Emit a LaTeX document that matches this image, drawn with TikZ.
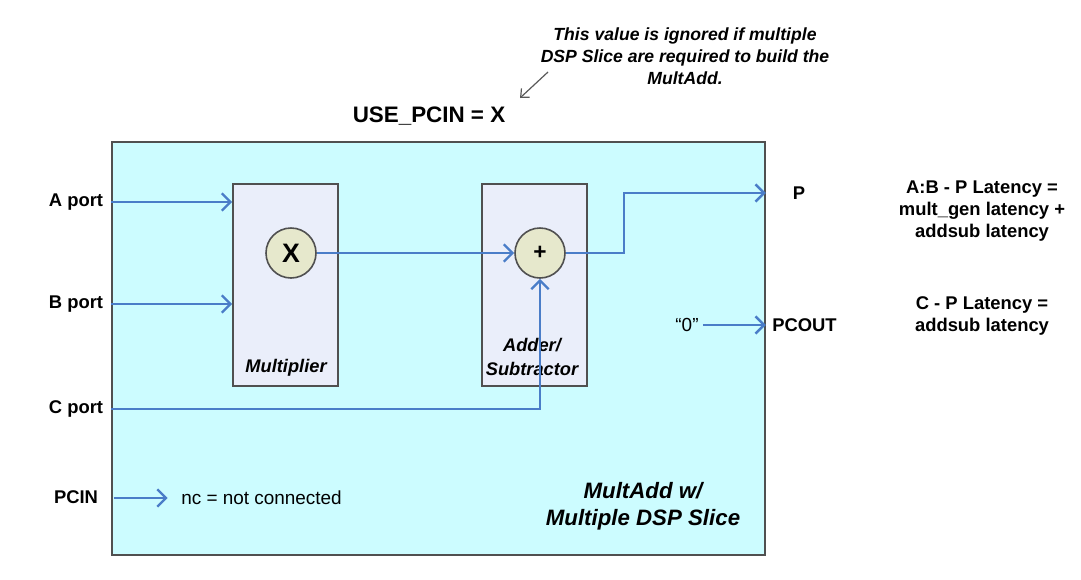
\documentclass[tikz,border=0pt]{standalone}
\usepackage{fontspec}
\setmainfont{Liberation Sans}
\usetikzlibrary{arrows.meta}
\definecolor{slicefill}{RGB}{204,252,255}
\definecolor{blockfill}{RGB}{234,238,250}
\definecolor{opfill}{RGB}{230,232,204}
\definecolor{sigblue}{RGB}{74,125,200}
\definecolor{edge}{RGB}{80,80,80}
\tikzset{
  sig/.style={draw=sigblue, line width=2.1pt, -{Straight Barb[length=6.5pt,width=13pt,line width=1.8pt]}},
  mainbox/.style={draw=edge, line width=1.2pt, fill=slicefill, minimum width=489.75pt, minimum height=309.75pt, inner sep=0pt},
  blockbox/.style={draw=edge, line width=1.2pt, fill=blockfill, minimum width=78.75pt, minimum height=151.5pt, inner sep=0pt},
  opnode/.style={circle, draw=edge, line width=1.2pt, fill=opfill, minimum size=37.5pt, inner sep=0pt},
  lbl/.style={font=\bfseries\fontsize{13.8}{16}\selectfont, inner sep=0pt},
  ital/.style={font=\bfseries\itshape\fontsize{13.7}{18}\selectfont, align=center, inner sep=0pt},
  note/.style={font=\bfseries\itshape\fontsize{13.2}{16.5}\selectfont, align=center, inner sep=0pt},
  lat/.style={font=\bfseries\fontsize{13.8}{16.5}\selectfont, align=center, inner sep=0pt},
  plain/.style={font=\fontsize{14.2}{16}\selectfont, inner sep=0pt},
  title/.style={font=\bfseries\fontsize{16.8}{19}\selectfont, inner sep=0pt},
  caption/.style={font=\bfseries\itshape\fontsize{16.7}{20}\selectfont, align=center, inner sep=0pt},
  pointer/.style={draw=black!65, line width=0.9pt, -{Straight Barb[length=5pt,width=9pt]}}
}
\begin{document}
\begin{tikzpicture}[x=0.75pt,y=-0.75pt]
\useasboundingbox (0,0) rectangle (1081,579);
\node[mainbox] (slice) at (438.5,348.5) {};
\node[blockbox] (mult) at (285.5,285) {};
\node[blockbox] (adder) at (534.5,285) {};
\node[opnode, font=\bfseries\fontsize{20}{22}\selectfont] (mulx) at (291,253) {X};
\node[opnode, font=\bfseries\fontsize{17}{20}\selectfont] (plus) at (540,253) {+};
\node[ital] (multlbl) at (286,368) {Multiplier};
\node[ital] (addlbl) at (532,357) {Adder/\\Subtractor};

\node[lbl] (alabel) at (76,202) {A port};
\node[lbl] (blabel) at (76,304) {B port};
\node[lbl] (clabel) at (76,409) {C port};
\node[lbl] (pcin) at (76,497) {PCIN};
\node[plain, anchor=west] (nc) at (181,498) {nc = not connected};
\node[lbl] (plabel) at (799,193) {P};
\node[plain] (zero) at (687,325) {“0”};
\node[lbl, anchor=west] (pcout) at (772,325) {PCOUT};
\node[lat] (lat1) at (982,211) {A:B - P Latency =\\mult\_gen latency +\\addsub latency};
\node[lat] (lat2) at (982,316) {C - P Latency =\\addsub latency};
\node[title] (usepcin) at (429,116) {USE\_PCIN = X};
\node[note] (notetxt) at (685,56) {This value is ignored if multiple\\DSP Slice are required to build the\\MultAdd.};
\node[caption] (capt) at (643,506) {MultAdd w/\\Multiple DSP Slice};

\coordinate (ptrstart) at (548,72);
\coordinate (ptrend) at (520,98);
\draw[pointer] (ptrstart) -- (ptrend);

\draw[sig] (slice.west |- alabel) -- (mult.west |- alabel);
\draw[sig] (slice.west |- blabel) -- (mult.west |- blabel);
\draw[sig] (slice.west |- clabel) -| (plus.south);
\draw[sig] (mulx.east) -- (plus.west);
\coordinate (bend) at (624,253);
\draw[sig] (plus.east) -- (bend) |- (slice.east |- plabel);
\draw[sig] ([xshift=3pt]zero.east) -- (slice.east |- zero);
\draw[sig] ([xshift=2pt]slice.west |- nc) -- ([xshift=-10pt]nc.west);
\end{tikzpicture}
\end{document}
